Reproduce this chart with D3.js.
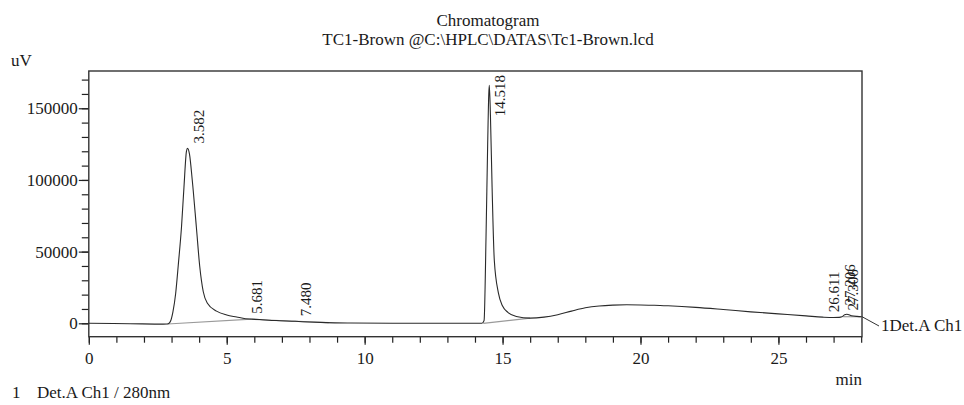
<!DOCTYPE html>
<html>
<head>
<meta charset="utf-8">
<script src="https://cdn.jsdelivr.net/npm/d3@7"></script>
<style>
body{margin:0;background:#fff}
text{font-family:"Liberation Serif","Times New Roman",serif;fill:#1a1a1a}
</style>
</head>
<body>
<div id="chart"></div>
<script>
var width = 964
var height = 405

// detector trace, minutes vs uV
var traceTime = [0, 1.5, 2.7, 2.85, 2.95, 3.05, 3.15, 3.25, 3.36, 3.45, 3.54, 3.58, 3.65, 3.75, 3.9, 4.02, 4.15, 4.3, 4.63, 5.0, 5.36, 5.68, 6.2, 6.8, 7.48, 8.0, 8.6, 9.5, 11, 13, 14.25, 14.33, 14.4, 14.46, 14.5, 14.52, 14.56, 14.62, 14.7, 14.85, 15.0, 15.2, 15.5, 16.0, 16.5, 17.0, 17.5, 18.0, 18.5, 19.0, 19.5, 20.0, 20.5, 21.0, 22.0, 23.0, 24.0, 25.0, 26.0, 26.6, 27.0, 27.2, 27.3, 27.4, 27.48, 27.65, 27.85, 28.03]
var traceSignal = [0, -300, -600, -500, 1000, 8000, 21000, 42000, 67000, 95000, 120000, 122000, 118000, 100000, 67000, 40000, 22000, 14000, 8500, 5800, 4400, 3200, 2600, 1900, 1400, 900, 500, 200, 0, 0, 0, 2000, 60000, 125000, 160000, 166000, 145000, 95000, 44000, 21000, 12000, 7500, 4800, 3600, 4300, 6000, 8500, 10800, 12100, 12700, 12900, 12800, 12600, 12200, 11100, 9600, 8000, 6600, 5200, 4300, 4000, 4100, 4500, 6000, 6300, 5300, 4800, 4600]

// integration baselines: [t0, v0, t1, v1]
var baselines = [
  [2.85, -500, 5.9, 2900],
  [5.9, 2900, 6.9, 1800],
  [6.9, 1800, 8.7, 450],
  [14.3, 0, 16.0, 3600],
  [27.35, 4600, 28.03, 4600]
]

// peak annotations
var peakTimes = [3.582, 5.681, 7.480, 14.518, 26.611, 27.206, 27.306]
var peakHeights = [122000, 3200, 1400, 166000, 4300, 9000, 5500]
var peakLabels = ['3.582', '5.681', '7.480', '14.518', '26.611', '27.206', '27.306']

var xMajor = [0, 5, 10, 15, 20, 25]
var yMajor = [0, 50000, 100000, 150000]

var plot = {left: 88.8, right: 862, top: 71, bottom: 336.7}

var svg = d3.select('#chart')
			.append('svg')
			.attr('width', width)
			.attr('height', height)

var x = d3.scaleLinear().domain([0, 28.03]).range([plot.left, plot.right])
var y = d3.scaleLinear().domain([-9350, 176000]).range([plot.bottom, plot.top])

// titles
svg.append('text')
	.attr('x', 488).attr('y', 26)
	.attr('text-anchor', 'middle')
	.style('font-size', '17px')
	.text('Chromatogram')
svg.append('text')
	.attr('x', 488).attr('y', 45)
	.attr('text-anchor', 'middle')
	.style('font-size', '17px')
	.text('TC1-Brown @C:\\HPLC\\DATAS\\Tc1-Brown.lcd')

svg.append('text').attr('x', 11).attr('y', 66).style('font-size', '17px').text('uV')
svg.append('text').attr('x', 862).attr('y', 385).attr('text-anchor', 'end').style('font-size', '17px').text('min')

// axes
var xMinorAxis = d3.axisBottom(x).tickValues(d3.range(0, 29, 1).filter(function(d){ return d <= 28.03 })).tickSize(6).tickFormat('')
var xAxis = d3.axisBottom(x).tickValues(xMajor).tickSize(8).tickPadding(7).tickFormat(d3.format('d'))
var yMinorAxis = d3.axisLeft(y).tickValues(d3.range(0, 170001, 10000)).tickSize(7).tickFormat('')
var yAxis = d3.axisLeft(y).tickValues(yMajor).tickSize(10).tickPadding(1).tickFormat(d3.format('d'))

function styleAxis(g){
	g.select('.domain').remove()
	g.selectAll('line').attr('stroke', '#222').attr('stroke-width', 1.2)
	g.selectAll('text').style('font-size', '17px').attr('fill', '#1a1a1a')
		.style('font-family', '"Liberation Serif","Times New Roman",serif')
}

svg.append('g').attr('transform', 'translate(0,' + plot.bottom + ')').call(xMinorAxis).call(styleAxis)
svg.append('g').attr('transform', 'translate(0,' + plot.bottom + ')').call(xAxis).call(styleAxis)
svg.append('g').attr('transform', 'translate(' + plot.left + ',0)').call(yMinorAxis).call(styleAxis)
svg.append('g').attr('transform', 'translate(' + plot.left + ',0)').call(yAxis).call(styleAxis)

// frame
svg.append('rect')
	.attr('x', plot.left).attr('y', plot.top)
	.attr('width', plot.right - plot.left)
	.attr('height', plot.bottom - plot.top)
	.attr('fill', 'none')
	.attr('stroke', '#333')
	.attr('stroke-width', 1.4)

// baselines in grey
svg.selectAll('.base')
	.data(baselines)
	.enter().append('line')
	.attr('x1', function(d){ return x(d[0]) })
	.attr('y1', function(d){ return y(d[1]) })
	.attr('x2', function(d){ return x(d[2]) })
	.attr('y2', function(d){ return y(d[3]) })
	.attr('stroke', '#9a9a9a')
	.attr('stroke-width', 1.2)

var points = traceTime.map(function(t, i){ return [t, traceSignal[i]] })

var line = d3.line()
	.x(function(d){ return x(d[0]) })
	.y(function(d){ return y(d[1]) })
	.curve(d3.curveMonotoneX)

svg.append('path')
	.datum(points)
	.attr('d', line)
	.attr('fill', 'none')
	.attr('stroke', '#2a2a2a')
	.attr('stroke-width', 1.1)

// peak labels, rotated; pushed down if they would leave the frame
peakTimes.forEach(function(t, i){
	var lbl = svg.append('text')
		.style('font-size', '15px')
		.text(peakLabels[i])
	var len = lbl.node().getComputedTextLength()
	var px = x(t) + 16
	var py = Math.max(y(peakHeights[i]) - 5, plot.top + 4 + len)
	lbl.attr('transform', 'translate(' + px + ',' + py + ') rotate(-90)')
})

// channel callout at trace end
var endX = x(traceTime[traceTime.length - 1])
var endY = y(traceSignal[traceSignal.length - 1])
svg.append('line')
	.attr('x1', endX).attr('y1', endY)
	.attr('x2', 879).attr('y2', 326)
	.attr('stroke', '#333').attr('stroke-width', 1)
svg.append('text').attr('x', 881).attr('y', 331).style('font-size', '17px').text('1Det.A Ch1')

svg.append('text').attr('x', 12).attr('y', 398).style('font-size', '17px').text('1')
svg.append('text').attr('x', 37).attr('y', 398).style('font-size', '17px').text('Det.A Ch1 / 280nm')
</script>
</body>
</html>
